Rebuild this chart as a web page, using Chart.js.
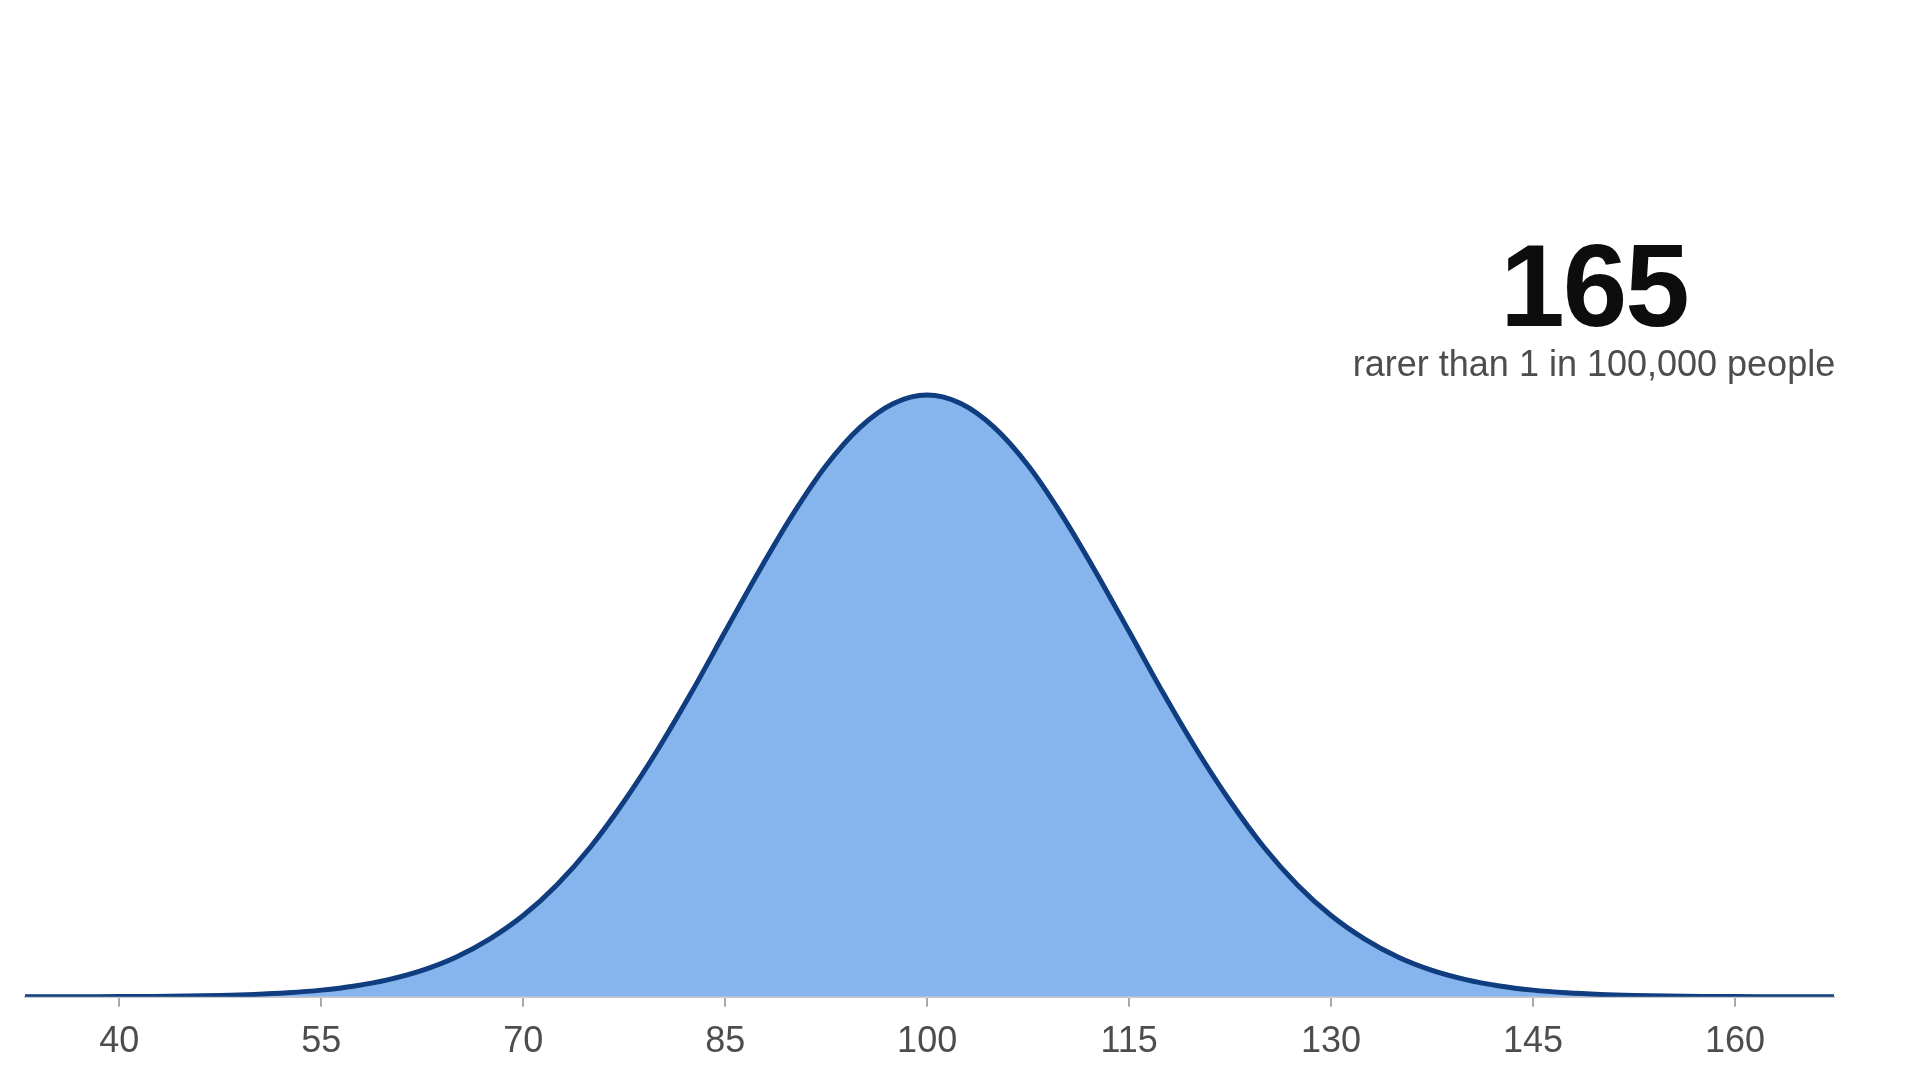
<!DOCTYPE html>
<html><head><meta charset="utf-8">
<script src="https://cdn.jsdelivr.net/npm/chart.js@4/dist/chart.umd.min.js"></script>
<style>
html,body{margin:0;padding:0;background:#fff;width:1920px;height:1080px;overflow:hidden;font-family:"Liberation Sans",Arial,sans-serif}
#wrap{position:absolute;left:0;top:0;width:1920px;height:1080px}
#big{position:absolute;left:1394px;width:400px;top:228px;text-align:center;font-weight:bold;font-size:116px;line-height:116px;color:#0d0d0d;letter-spacing:-2px}
#sub{position:absolute;left:1294px;width:600px;top:342px;text-align:center;font-size:36px;line-height:44px;color:#4d4d4d}
</style></head><body>
<div id="wrap"><canvas id="c" width="1920" height="1080"></canvas></div>
<div id="big">165</div>
<div id="sub">rarer than 1 in 100,000 people</div>
<script>
const iqScores = [30,32.5,35,37.5,40,42.5,45,47.5,50,52.5,55,57.5,60,62.5,65,67.5,70,72.5,75,77.5,80,82.5,85,87.5,90,92.5,95,97.5,100,102.5,105,107.5,110,112.5,115,117.5,120,122.5,125,127.5,130,132.5,135,137.5,140,142.5,145,147.5,150,152.5,155,157.5,160,162.5,165,167.5,170];
const density = [0.002,0.005,0.008,0.02,0.034,0.065,0.12,0.22,0.39,0.67,1.11,1.81,2.86,4.39,6.57,9.58,13.5,18.6,24.9,32.5,41.1,50.6,60.7,70.7,80.1,88.3,94.6,98.6,100,98.6,94.6,88.3,80.1,70.7,60.7,50.6,41.1,32.5,24.9,18.6,13.5,9.58,6.57,4.39,2.86,1.81,1.11,0.67,0.39,0.22,0.12,0.065,0.034,0.02,0.008,0.005,0.002];
const tickValues = [40,55,70,85,100,115,130,145,160];

new Chart(document.getElementById('c'), {
  type: 'line',
  data: { datasets: [{
    data: iqScores.map((x,i)=>({x:x,y:density[i]})),
    borderColor:'#0f3d7f', borderWidth:5, backgroundColor:'#86b5ee',
    fill:'origin', pointRadius:0, tension:0.4, cubicInterpolationMode:'monotone'
  }]},
  options: {
    responsive:false, animation:false, devicePixelRatio:1,
    layout:{padding:{left:25,right:86,top:10,bottom:2}},
    plugins:{legend:{display:false},tooltip:{enabled:false}},
    scales:{
      x:{type:'linear',min:33,max:167.35,
        afterBuildTicks:(ax)=>{ax.ticks=tickValues.map(v=>({value:v}));},
        grid:{display:true,drawOnChartArea:false,tickLength:10,color:'#aaaaaa',lineWidth:2},
        border:{display:true,color:'#c8c8c8',width:2},
        ticks:{color:'#4d4d4d',padding:14,font:{family:'"Liberation Sans", Arial, sans-serif',size:36},maxRotation:0,autoSkip:false}},
      y:{display:false,min:0,max:164}
    }
  }
});
</script>
</body></html>
